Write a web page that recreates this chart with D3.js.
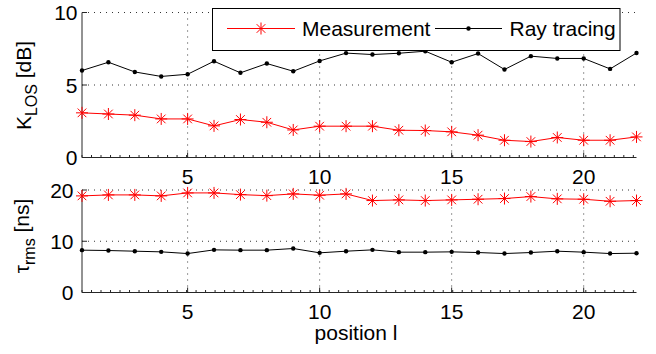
<!DOCTYPE html>
<html>
<head>
<meta charset="utf-8">
<script src="https://cdn.jsdelivr.net/npm/d3@7"></script>
<style>
  body { margin: 0; background: #fff; }
  text { font-family: "Liberation Sans", Arial, sans-serif; fill: #000; }
</style>
</head>
<body>
<div id="chart"></div>
<script>
const positions = [1, 2, 3, 4, 5, 6, 7, 8, 9, 10, 11, 12, 13, 14, 15, 16, 17, 18, 19, 20, 21, 22];
const kMeasurement = [3.08, 3.0, 2.92, 2.66, 2.66, 2.18, 2.62, 2.43, 1.9, 2.16, 2.16, 2.16, 1.88, 1.86, 1.77, 1.54, 1.19, 1.1, 1.38, 1.19, 1.19, 1.42];
const kRayTracing = [6.0, 6.57, 5.9, 5.59, 5.74, 6.64, 5.84, 6.48, 5.95, 6.66, 7.2, 7.1, 7.19, 7.33, 6.57, 7.17, 6.07, 6.99, 6.83, 6.83, 6.11, 7.21];
const tauMeasurement = [18.85, 19.04, 19.04, 18.85, 19.43, 19.43, 19.1, 18.9, 19.24, 18.98, 19.24, 17.94, 18.07, 17.94, 18.07, 18.2, 18.33, 18.72, 18.27, 18.2, 17.8, 17.94];
const tauRayTracing = [8.26, 8.19, 8.06, 7.93, 7.6, 8.32, 8.26, 8.26, 8.58, 7.74, 8.06, 8.32, 7.87, 7.87, 7.93, 7.8, 7.6, 7.8, 8.06, 7.87, 7.6, 7.67];
const xTicks = [5, 10, 15, 20];
const kTicks = [0, 5, 10];
const tauTicks = [0, 10, 20];
const seriesNames = ["Measurement", "Ray tracing"];

const width = 656, height = 354;
const fontSize = 21;

const svg = d3.select("#chart").append("svg")
    .attr("width", width)
    .attr("height", height);

const x = d3.scaleLinear().domain([1, 22]).range([82, 636.5]);

// asterisk marker like matlab '*'
function star(r) {
  const d = r * 0.72;
  return `M${-r},0L${r},0M0,${-r}L0,${r}M${-d},${-d}L${d},${d}M${-d},${d}L${d},${-d}`;
}

function drawPanel(y, ticks, meas, ray, labelEnd, yLabel, ySub, unit, yLabelX, yLabelY) {
  const g = svg.append("g");
  const [y0, y1] = y.range();

  // dotted grid
  g.selectAll(".gx").data(xTicks).enter().append("line")
      .attr("x1", (d) => x(d)).attr("x2", (d) => x(d))
      .attr("y1", y0).attr("y2", y1)
      .attr("stroke", "#000").attr("stroke-width", 0.8)
      .attr("stroke-dasharray", "1,5");
  g.selectAll(".gy").data(ticks.filter((d) => d > 0)).enter().append("line")
      .attr("x1", x.range()[0]).attr("x2", x.range()[1])
      .attr("y1", (d) => y(d)).attr("y2", (d) => y(d))
      .attr("stroke", "#000").attr("stroke-width", 0.8)
      .attr("stroke-dasharray", "1,5");

  // axes lines
  g.append("line")
      .attr("x1", x.range()[0]).attr("x2", x.range()[1])
      .attr("y1", y0).attr("y2", y0)
      .attr("stroke", "#262626").attr("stroke-width", 1);
  g.append("line")
      .attr("x1", x.range()[0]).attr("x2", x.range()[0])
      .attr("y1", y0).attr("y2", y1)
      .attr("stroke", "#262626").attr("stroke-width", 1);

  // minor ticks on x
  g.selectAll(".mt").data(d3.range(1, 22, 0.36)).enter().append("line")
      .attr("x1", (d) => x(d)).attr("x2", (d) => x(d))
      .attr("y1", y0).attr("y2", y0 - 2.5)
      .attr("stroke", "#262626").attr("stroke-width", 1);
  // major ticks
  g.selectAll(".xt").data(xTicks).enter().append("line")
      .attr("x1", (d) => x(d)).attr("x2", (d) => x(d))
      .attr("y1", y0).attr("y2", y0 - 5)
      .attr("stroke", "#262626").attr("stroke-width", 1);
  g.selectAll(".yt").data(ticks).enter().append("line")
      .attr("x1", x.range()[0]).attr("x2", x.range()[0] + 5)
      .attr("y1", (d) => y(d)).attr("y2", (d) => y(d))
      .attr("stroke", "#262626").attr("stroke-width", 1);

  // tick labels
  g.selectAll(".xl").data(xTicks).enter().append("text")
      .attr("x", (d) => x(d)).attr("y", y0 + 26)
      .attr("text-anchor", "middle")
      .style("font-size", fontSize + "px")
      .text((d) => d);
  g.selectAll(".yl").data(ticks).enter().append("text")
      .attr("x", labelEnd).attr("y", (d) => y(d) + 7.5)
      .attr("text-anchor", "end")
      .style("font-size", fontSize + "px")
      .text((d) => d);

  // y label
  const lab = g.append("text")
      .attr("transform", `translate(${yLabelX},${yLabelY}) rotate(-90)`)
      .attr("text-anchor", "middle")
      .style("font-size", fontSize + "px");
  lab.append("tspan").text(yLabel);
  lab.append("tspan").attr("dy", 5.5).style("font-size", "16px").text(ySub);
  lab.append("tspan").attr("dy", -5.5).text(" [" + unit + "]");

  // series
  const line = (vals) => d3.line()
      .x((d, i) => x(positions[i]))
      .y((d) => y(d))(vals);

  g.append("path").attr("d", line(ray))
      .attr("fill", "none").attr("stroke", "#000").attr("stroke-width", 1);
  g.selectAll(".rd").data(ray).enter().append("circle")
      .attr("cx", (d, i) => x(positions[i])).attr("cy", (d) => y(d))
      .attr("r", 2.2).attr("fill", "#000");

  g.append("path").attr("d", line(meas))
      .attr("fill", "none").attr("stroke", "#ff0000").attr("stroke-width", 1);
  g.selectAll(".ms").data(meas).enter().append("path")
      .attr("transform", (d, i) => `translate(${x(positions[i])},${y(d)})`)
      .attr("d", star(6))
      .attr("fill", "none").attr("stroke", "#ff0000").attr("stroke-width", 1);
}

const yK = d3.scaleLinear().domain([0, 10]).range([157.5, 12.5]);
const yTau = d3.scaleLinear().domain([0, 20]).range([292.5, 190]);

drawPanel(yK, kTicks, kMeasurement, kRayTracing, 77.5, "K", "LOS", "dB", 31, 85.5);
drawPanel(yTau, tauTicks, tauMeasurement, tauRayTracing, 73.5, "τ", "rms", "ns", 29, 236);

// x axis label
svg.append("text")
    .attr("x", 356).attr("y", 340)
    .attr("text-anchor", "middle")
    .style("font-size", fontSize + "px")
    .text("position l");

// legend
const leg = svg.append("g");
leg.append("rect")
    .attr("x", 212.5).attr("y", 8.5).attr("width", 407.5).attr("height", 42)
    .attr("fill", "#fff").attr("stroke", "#000").attr("stroke-width", 1);

const legY = 28.5;
leg.append("line").attr("x1", 227).attr("x2", 295).attr("y1", legY).attr("y2", legY)
    .attr("stroke", "#ff0000").attr("stroke-width", 1);
leg.append("path").attr("transform", `translate(261,${legY})`).attr("d", star(6))
    .attr("fill", "none").attr("stroke", "#ff0000").attr("stroke-width", 1);
leg.append("text").attr("x", 302).attr("y", legY + 7.5)
    .style("font-size", fontSize + "px").text(seriesNames[0]);

leg.append("line").attr("x1", 435).attr("x2", 502).attr("y1", legY).attr("y2", legY)
    .attr("stroke", "#000").attr("stroke-width", 1);
leg.append("circle").attr("cx", 468.5).attr("cy", legY).attr("r", 2.2).attr("fill", "#000");
leg.append("text").attr("x", 509.5).attr("y", legY + 7.5)
    .style("font-size", fontSize + "px").text(seriesNames[1]);
</script>
</body>
</html>
